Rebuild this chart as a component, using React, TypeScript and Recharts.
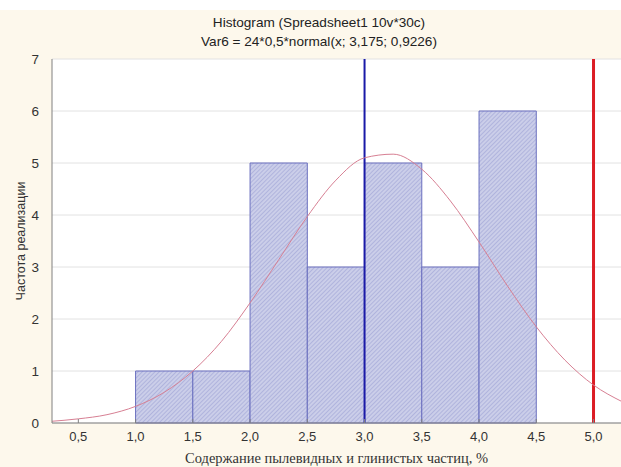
import React from 'react';
import {
  ComposedChart,
  XAxis,
  YAxis,
  CartesianGrid,
  Line,
  ReferenceArea,
  ReferenceLine,
  Label,
} from 'recharts';

// Histogram bins (left edge, right edge, count)
const binStart = [1.0, 1.5, 2.0, 2.5, 3.0, 3.5, 4.0];
const binEnd = [1.5, 2.0, 2.5, 3.0, 3.5, 4.0, 4.5];
const binCount = [1, 1, 5, 3, 5, 3, 6];

// Fitted normal curve
const curveX = [0.25, 0.5, 0.75, 1.0, 1.25, 1.5, 1.75, 2.0, 2.25, 2.5, 2.75, 3.0, 3.25, 3.5, 3.75, 4.0, 4.25, 4.5, 4.75, 5.0, 5.25];
const curveY = [0.03, 0.08, 0.16, 0.32, 0.59, 1.0, 1.57, 2.31, 3.14, 3.97, 4.67, 5.1, 5.17, 4.88, 4.27, 3.48, 2.63, 1.85, 1.21, 0.73, 0.41];

const xTicks = [0.5, 1.0, 1.5, 2.0, 2.5, 3.0, 3.5, 4.0, 4.5, 5.0];
const yTicks = [0, 1, 2, 3, 4, 5, 6, 7];

const blueLineX = 3.0;
const redLineX = 5.0;

const titleLine1 = 'Histogram (Spreadsheet1 10v*30c)';
const titleLine2 = 'Var6 = 24*0,5*normal(x; 3,175; 0,9226)';
const xLabel = 'Содержание пылевидных и глинистых частиц, %';
const yLabel = 'Частота реализации';

const curveData = curveX.map((x, i) => ({ x, y: curveY[i] }));

const sans = '"Liberation Sans", Arial, sans-serif';
const serif = '"Liberation Serif", "Times New Roman", serif';

export default function App() {
  return (
    <div
      style={{
        position: 'absolute',
        left: 0,
        top: 0,
        width: 621,
        height: 467,
        background: 'linear-gradient(#ffffff 0px, #ffffff 10px, #fdf8ec 10px)',
        overflow: 'hidden',
      }}
    >
      <div
        style={{
          position: 'absolute',
          left: 0,
          top: 13,
          width: 638,
          textAlign: 'center',
          fontFamily: sans,
          fontSize: 13.6,
          lineHeight: '19px',
          color: '#222',
        }}
      >
        <div>{titleLine1}</div>
        <div>{titleLine2}</div>
      </div>
      <ComposedChart
        width={621}
        height={467}
        data={curveData}
        margin={{ top: 59, right: 0, bottom: 0, left: 0 }}
        style={{ position: 'absolute', left: 0, top: 0 }}
      >
        <defs>
          <pattern id="hatch" width="3" height="3" patternUnits="userSpaceOnUse" patternTransform="rotate(45)">
            <rect width="3" height="3" fill="#cbcee9" />
            <line x1="0" y1="0" x2="0" y2="3" stroke="#969bd2" strokeWidth="1" />
          </pattern>
        </defs>
        <CartesianGrid
          vertical={false}
          stroke="#e2e2e2"
          fill="#ffffff"
          fillOpacity={1}
          yAxisId="left"
          xAxisId="bottom"
        />
        <XAxis
          xAxisId="bottom"
          type="number"
          dataKey="x"
          domain={[0.27, 5.24]}
          ticks={xTicks}
          allowDataOverflow
          height={44}
          stroke="#808080"
          tickSize={-4}
          tickMargin={13}
          tick={{ fill: '#333', fontSize: 13, fontFamily: sans }}
          tickFormatter={(v: number) => v.toFixed(1).replace('.', ',')}
        >
          <Label
            content={(props: any) => {
              const vb = props.viewBox || {};
              return (
                <text
                  x={vb.x + vb.width / 2}
                  y={463}
                  textAnchor="middle"
                  fontFamily={serif}
                  fontSize={14.5}
                  fill="#333"
                >
                  {xLabel}
                </text>
              );
            }}
          />
        </XAxis>
        <XAxis
          xAxisId="top"
          orientation="top"
          type="number"
          dataKey="x"
          domain={[0.27, 5.24]}
          ticks={xTicks}
          allowDataOverflow
          height={0}
          stroke="#909090"
          tickSize={-4}
          tick={false}
        />
        <YAxis
          yAxisId="left"
          type="number"
          domain={[0, 7]}
          ticks={yTicks}
          width={52}
          stroke="#808080"
          tickLine={false}
          tickMargin={7}
          tick={{ fill: '#333', fontSize: 13.5, fontFamily: sans }}
        >
          <Label
            content={(props: any) => {
              const vb = props.viewBox || {};
              const cx = 22;
              const cy = vb.y + vb.height / 2;
              return (
                <text
                  x={cx}
                  y={cy}
                  textAnchor="middle"
                  dominantBaseline="middle"
                  transform={`rotate(-90 ${cx} ${cy})`}
                  fontFamily={sans}
                  fontSize={12.5}
                  fill="#333"
                >
                  {yLabel}
                </text>
              );
            }}
          />
        </YAxis>
        {binCount.map((c, i) => (
          <ReferenceArea
            key={i}
            xAxisId="bottom"
            yAxisId="left"
            x1={binStart[i]}
            x2={binEnd[i]}
            y1={0}
            y2={c}
            fill="url(#hatch)"
            fillOpacity={1}
            stroke="#6a6fbf"
            strokeWidth={1}
            ifOverflow="visible"
          />
        ))}
        <ReferenceLine xAxisId="bottom" yAxisId="left" x={blueLineX} stroke="#1a1aa8" strokeWidth={2} />
        <ReferenceLine xAxisId="bottom" yAxisId="left" x={redLineX} stroke="#dc1c24" strokeWidth={3} />
        <Line
          xAxisId="bottom"
          yAxisId="left"
          type="monotone"
          dataKey="y"
          stroke="#d77f93"
          strokeWidth={1}
          dot={false}
          isAnimationActive={false}
        />
      </ComposedChart>
    </div>
  );
}
